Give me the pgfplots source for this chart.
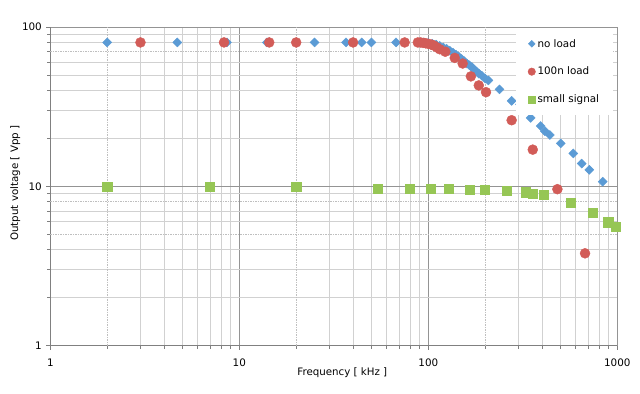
\documentclass[border=0pt]{standalone}
\usepackage{fontspec}
\setmainfont{DejaVu Sans}
\usepackage{pgfplots}
\pgfplotsset{compat=1.18}
\definecolor{cblue}{RGB}{91,155,213}
\definecolor{cred}{RGB}{210,92,88}
\definecolor{cgreen}{RGB}{150,198,85}
\begin{document}
\begin{tikzpicture}
\useasboundingbox (0,0) rectangle (640bp,394bp);
\begin{axis}[
  at={(50.3bp,48.3bp)}, anchor=south west,
  scale only axis, width=567bp, height=318.7bp,
  xmode=log, ymode=log,
  xmin=1, xmax=1000, ymin=1, ymax=100,
  xtick={1,10,100,1000}, xticklabels={1,10,100,1000},
  ytick={1,10,100}, yticklabels={1,10,100},
  minor xtick={3,4,5,6,7,8,9,30,40,50,60,70,80,90,300,400,500,600,700,800,900},
  minor ytick={2,3,4,6,7,9,20,30,40,50,60,80,90},
  extra x ticks={2,20,200}, extra x tick labels={},
  extra y ticks={5,8,70}, extra y tick labels={},
  extra x tick style={grid=major, major grid style={dash pattern=on 1.5bp off 1bp, color=black!25, line width=0.8bp}, major tick length=3bp},
  extra y tick style={grid=major, major grid style={dash pattern=on 1.5bp off 1bp, color=black!25, line width=0.8bp}, major tick length=3bp},
  grid=both,
  major grid style={color=black!42, line width=0.8bp},
  minor grid style={color=black!18, line width=0.8bp},
  axis lines*=left,
  axis line style={color=black!50, line width=0.8bp},
  tick align=outside, tick pos=left,
  major tick length=4bp, minor tick length=3bp,
  tick style={color=black!50, line width=0.6bp},
  ticklabel style={font=\fontsize{10.4}{12}\selectfont},
  xticklabel style={yshift=-6bp},
  yticklabel style={xshift=-1bp},
  xlabel={Frequency [ kHz ]},
  ylabel={Output voltage [ Vpp ]},
  every axis x label/.style={at={(axis description cs:0.515,0)}, anchor=center, yshift=-27bp, font=\fontsize{10.3}{12}\selectfont},
  every axis y label/.style={at={(axis description cs:0,0.51)}, rotate=90, anchor=center, yshift=35bp, font=\fontsize{10.3}{12}\selectfont},
  clip=false,
  legend style={at={(rel axis cs:0.821,0.997)}, anchor=north west, draw=none, fill=white,
    inner xsep=12bp, inner ysep=9bp, row sep=14.5bp, font=\fontsize{10.4}{12}\selectfont},
  legend cell align=left,
  legend image code/.code={\draw[#1, /tikz/every mark/.append style={scale=0.75}] plot coordinates {(0bp,0bp)};},
]
\addplot[only marks, mark=square*, mark size=3.2bp, color=cblue, mark options={rotate=45}] coordinates {
(2,80) (4.7,80) (8.6,80) (14,80) (25,80) (36.7,80) (44.4,80) (50,80) (67.5,80)
(90,80) (95,80) (100,79.5) (105,78.5) (110,77.5) (115,76) (120,74.5) (125,73)
(130,71) (135,69) (140,67) (145,65) (150,63) (155,61) (160,59) (165,57.5)
(170,56) (175,54) (180,52.5) (185,51) (192,49.5) (200,47.5) (208,46.2)
(238,40.6) (276,34.4) (306,32.7) (348,26.9) (393,23.9) (414,22.2) (440,21)
(502,18.6) (585,16.1) (648,13.9) (711,12.7) (837,10.7)
};
\addplot[only marks, mark=*, mark size=5bp, color=cred] coordinates {
(3,80) (8.3,80) (14.4,80) (20,80) (40,80) (75,80) (88,80) (91,80) (94,79.5)
(97,79) (100,78.5) (104,77.5) (107,76.5) (111,74.5) (115,72.5) (123,70)
(138,64) (152,59) (168,49) (185,43) (202,39) (276,26) (357,17) (482,9.6) (675,3.8)
};
\addplot[only marks, mark=square*, mark size=4.6bp, color=cgreen] coordinates {
(2,9.9) (7,9.9) (20,9.9) (54,9.7) (80,9.7) (103,9.7) (128,9.7) (165,9.5) (198,9.5)
(260,9.4) (329,9.2) (357,9.0) (409,8.9) (569,7.9) (741,6.8) (896,5.95) (984,5.6)
};
\legend{no load, 100n load, small signal}
\end{axis}
\end{tikzpicture}
\end{document}
